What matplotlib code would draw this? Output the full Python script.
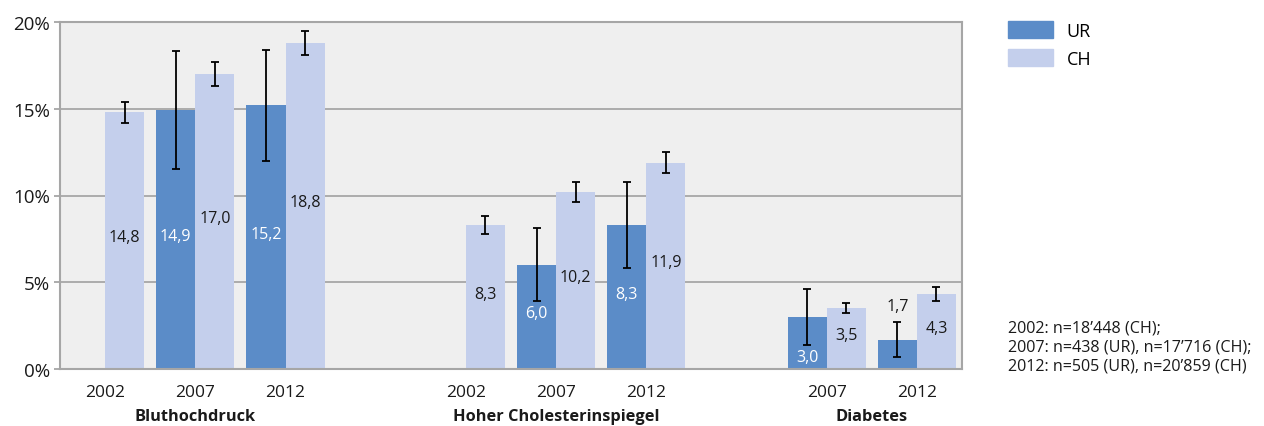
import numpy as np
import matplotlib
matplotlib.use("Agg")
from matplotlib import pyplot as plt
from matplotlib.patches import Patch

plt.rcParams['font.family'] = ['Open Sans', 'DejaVu Sans']

# data
group_names = ["Bluthochdruck", "Hoher Cholesterinspiegel", "Diabetes"]
group_sizes = [3, 3, 2]
year_labels = ["2002", "2007", "2012", "2002", "2007", "2012", "2007", "2012"]

ur_values = [np.nan, 14.9, 15.2, np.nan, 6.0, 8.3, 3.0, 1.7]
ur_low = [np.nan, 11.5, 12.0, np.nan, 3.9, 5.8, 1.4, 0.7]
ur_high = [np.nan, 18.3, 18.4, np.nan, 8.1, 10.8, 4.6, 2.7]

ch_values = [14.8, 17.0, 18.8, 8.3, 10.2, 11.9, 3.5, 4.3]
ch_low = [14.2, 16.3, 18.1, 7.8, 9.6, 11.3, 3.2, 3.9]
ch_high = [15.4, 17.7, 19.5, 8.8, 10.8, 12.5, 3.8, 4.7]

notes = ["2002: n=18\u2019448 (CH);",
         "2007: n=438 (UR), n=17\u2019716 (CH);",
         "2012: n=505 (UR), n=20\u2019859 (CH)"]

c_ur = "#5b8cc8"
c_ch = "#c4cfec"

# x positions: one empty slot between groups
pos = []
centers = []
i = 0
for g in group_sizes:
    p = list(range(i, i + g))
    pos += p
    centers.append(np.mean(p))
    i += g + 1
pos = np.array(pos, dtype=float)

ur = np.array(ur_values)
ch = np.array(ch_values)
w = 0.433

fig = plt.figure(figsize=(12.64, 4.27), dpi=100)
ax = fig.add_axes([60/1264, 1 - 370/427, 902/1264, 347/427])
ax.set_facecolor("#efefef")

ax.bar(pos - w/2, ur, w, color=c_ur, zorder=2)
ax.bar(pos + w/2, ch, w, color=c_ch, zorder=2)

ur_err = [ur - np.array(ur_low), np.array(ur_high) - ur]
ch_err = [ch - np.array(ch_low), np.array(ch_high) - ch]
ax.errorbar(pos - w/2, ur, yerr=ur_err, fmt="none", ecolor="black",
            elinewidth=1.3, capsize=3.2, capthick=1.3, zorder=3)
ax.errorbar(pos + w/2, ch, yerr=ch_err, fmt="none", ecolor="black",
            elinewidth=1.3, capsize=3.2, capthick=1.3, zorder=3)

# value labels
fs_val = 11.5
for k in range(len(pos)):
    v = ur[k]
    if not np.isnan(v):
        txt = f"{v:.1f}".replace(".", ",")
        if v < 2.0:
            # small bar: label above error bar
            ax.text(pos[k] - w/2, ur_high[k] + 0.45, txt, ha="center", va="bottom",
                    fontsize=fs_val, color="#1a1a1a", zorder=4)
        elif v < 3.5:
            ax.text(pos[k] - w/2, 0.7, txt, ha="center", va="center",
                    fontsize=fs_val, color="white", zorder=4)
        else:
            ax.text(pos[k] - w/2, v/2 + 0.2, txt, ha="center", va="center",
                    fontsize=fs_val, color="white", zorder=4)
    v = ch[k]
    txt = f"{v:.1f}".replace(".", ",")
    ax.text(pos[k] + w/2, v/2 + 0.2, txt, ha="center", va="center",
            fontsize=fs_val, color="#1a1a1a", zorder=4)

ax.set_ylim(0, 20)
ax.set_xlim(-0.5, pos[-1] + 0.5)
ax.set_yticks([0, 5, 10, 15, 20])
ax.set_yticklabels(["0%", "5%", "10%", "15%", "20%"], fontsize=13.5, color="#1a1a1a")
ax.yaxis.grid(True, color="#a6a6a6", linewidth=1.3, zorder=1)
ax.set_axisbelow(True)
ax.tick_params(axis="y", length=4, width=1.3, color="#a6a6a6", pad=3)
ax.set_xticks(pos)
ax.set_xticklabels(year_labels, fontsize=12.5, color="#1a1a1a")
ax.tick_params(axis="x", length=0, pad=11)
for s in ax.spines.values():
    s.set_color("#a6a6a6")
    s.set_linewidth(1.5)

for c, name in zip(centers, group_names):
    ax.text(c, -(417 - 370) / 347, name, transform=ax.get_xaxis_transform(),
            ha="center", va="center", fontsize=11.8, fontweight="bold",
            color="#1a1a1a")

handles = [Patch(color=c_ur, label="UR"), Patch(color=c_ch, label="CH")]
fig.legend(handles=handles, loc="upper left", bbox_to_anchor=(1008/1264, 1 - 22/427),
           frameon=False, fontsize=13, handlelength=2.5, handleheight=1.1,
           labelspacing=0.5, handletextpad=0.75, borderpad=0, borderaxespad=0)

for j, line in enumerate(notes):
    fig.text(1008/1264, 1 - (329 + 19*j)/427, line, fontsize=11.6, va="center",
             ha="left", color="#1a1a1a")

fig.savefig("out.png", dpi=100)
